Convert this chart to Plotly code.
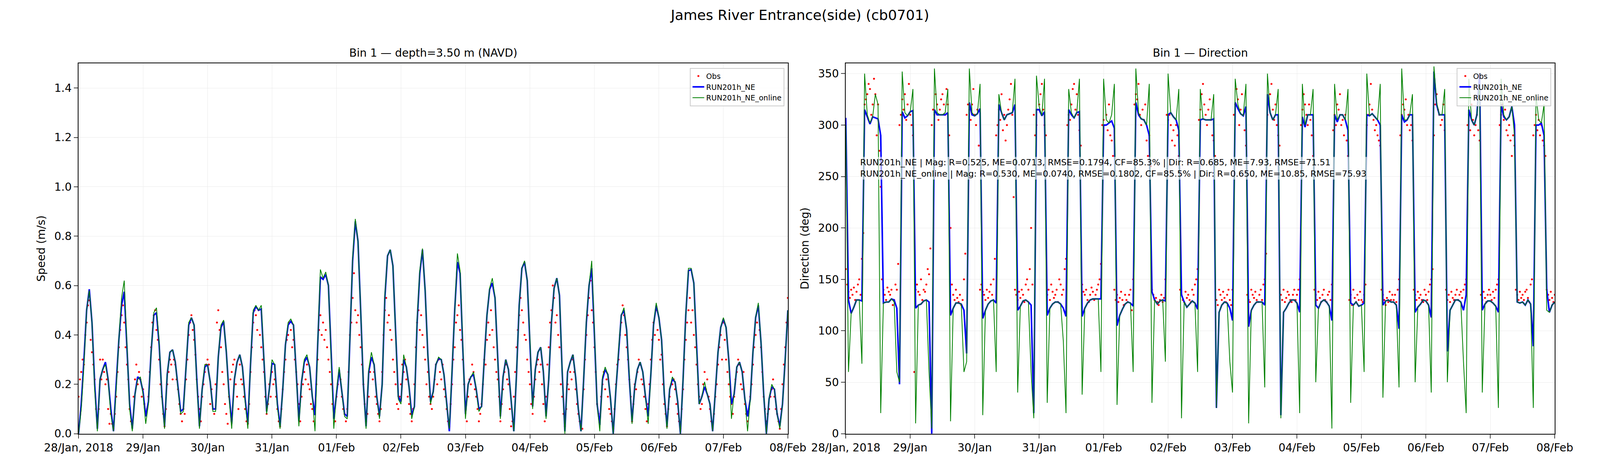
import plotly.graph_objects as go
import pandas as pd


def vals(s):
    return [float(v) for v in s.split()]


start = "2018-01-28 00:00"

# hourly model speed (m/s)
speed_run = vals("""
0.0 0.12 0.30 0.50 0.585 0.45 0.20 0.02 0.22 0.26 0.29 0.22
0.10 0.01 0.20 0.38 0.52 0.575 0.35 0.12 0.02 0.16 0.23 0.22
0.17 0.07 0.13 0.33 0.48 0.49 0.36 0.16 0.03 0.24 0.33 0.34
0.29 0.19 0.09 0.10 0.27 0.44 0.47 0.44 0.22 0.03 0.18 0.27
0.28 0.21 0.10 0.10 0.31 0.43 0.455 0.33 0.16 0.04 0.22 0.29
0.32 0.27 0.14 0.04 0.28 0.49 0.515 0.50 0.505 0.30 0.09 0.18
0.285 0.28 0.12 0.03 0.18 0.36 0.44 0.455 0.44 0.25 0.05 0.21
0.29 0.31 0.27 0.15 0.075 0.36 0.635 0.625 0.645 0.60 0.32 0.06
0.16 0.26 0.17 0.08 0.07 0.40 0.70 0.86 0.78 0.50 0.20 0.03
0.25 0.31 0.28 0.15 0.07 0.20 0.55 0.72 0.745 0.68 0.40 0.15
0.13 0.30 0.27 0.19 0.075 0.11 0.45 0.65 0.745 0.58 0.32 0.13
0.17 0.28 0.305 0.30 0.24 0.12 0.01 0.25 0.50 0.695 0.65 0.35
0.08 0.20 0.23 0.24 0.18 0.10 0.11 0.30 0.48 0.585 0.61 0.55
0.30 0.07 0.23 0.30 0.26 0.13 0.01 0.24 0.52 0.67 0.695 0.62
0.38 0.11 0.26 0.33 0.35 0.25 0.07 0.22 0.45 0.59 0.63 0.56
0.25 0.01 0.25 0.29 0.32 0.23 0.10 0.01 0.22 0.45 0.60 0.67
0.40 0.12 0.035 0.22 0.26 0.24 0.14 0.00 0.18 0.34 0.48 0.50
0.42 0.22 0.05 0.19 0.26 0.29 0.25 0.15 0.07 0.24 0.44 0.52
0.47 0.38 0.16 0.03 0.18 0.22 0.21 0.13 0.00 0.22 0.48 0.66
0.665 0.61 0.35 0.12 0.15 0.19 0.16 0.12 0.01 0.17 0.33 0.43
0.465 0.43 0.30 0.12 0.16 0.27 0.29 0.25 0.14 0.07 0.14 0.33
0.47 0.52 0.37 0.16 0.00 0.14 0.19 0.18 0.08 0.03 0.12 0.30
0.50
""")

speed_online = vals("""
0.0 0.10 0.28 0.50 0.58 0.45 0.18 0.01 0.22 0.26 0.28 0.22
0.08 0.01 0.18 0.38 0.55 0.62 0.36 0.10 0.01 0.16 0.22 0.23
0.16 0.04 0.12 0.33 0.49 0.51 0.37 0.15 0.02 0.24 0.33 0.34
0.29 0.19 0.08 0.09 0.27 0.45 0.47 0.44 0.21 0.02 0.18 0.28
0.28 0.21 0.09 0.09 0.31 0.44 0.46 0.33 0.15 0.02 0.22 0.29
0.32 0.27 0.13 0.02 0.28 0.50 0.52 0.50 0.52 0.30 0.08 0.18
0.30 0.28 0.11 0.02 0.18 0.36 0.45 0.465 0.44 0.25 0.03 0.21
0.30 0.32 0.27 0.15 0.01 0.36 0.665 0.63 0.655 0.60 0.32 0.02
0.17 0.27 0.17 0.07 0.06 0.40 0.71 0.87 0.78 0.50 0.20 0.02
0.26 0.33 0.28 0.15 0.06 0.20 0.56 0.72 0.745 0.68 0.40 0.14
0.12 0.32 0.27 0.19 0.06 0.11 0.46 0.66 0.75 0.58 0.32 0.12
0.17 0.28 0.31 0.30 0.24 0.12 0.02 0.25 0.50 0.73 0.66 0.35
0.06 0.20 0.23 0.25 0.18 0.09 0.11 0.30 0.48 0.59 0.63 0.55
0.30 0.06 0.23 0.30 0.26 0.13 0.01 0.24 0.52 0.67 0.70 0.62
0.38 0.10 0.26 0.33 0.35 0.25 0.06 0.22 0.45 0.59 0.63 0.56
0.25 0.00 0.25 0.29 0.32 0.23 0.10 0.01 0.22 0.46 0.60 0.70
0.40 0.12 0.01 0.23 0.27 0.24 0.14 0.00 0.18 0.34 0.48 0.51
0.42 0.22 0.04 0.19 0.26 0.29 0.25 0.15 0.04 0.24 0.44 0.53
0.47 0.38 0.16 0.02 0.18 0.23 0.21 0.13 0.00 0.22 0.48 0.67
0.67 0.61 0.35 0.12 0.15 0.21 0.16 0.12 0.01 0.17 0.33 0.43
0.47 0.43 0.30 0.06 0.16 0.27 0.29 0.25 0.14 0.01 0.14 0.33
0.47 0.53 0.37 0.16 0.00 0.14 0.20 0.18 0.08 0.02 0.12 0.30
0.50
""")

# half-hourly observed speed (m/s)
speed_obs = vals("""
0.15 0.22 0.25 0.30 0.28 0.40 0.45 0.52 0.54 0.38 0.33 0.28 0.22 0.10 0.05 0.10 0.30 0.22 0.30 0.25 0.20 0.22 0.10 0.04
0.08 0.04 0.02 0.08 0.15 0.25 0.35 0.42 0.48 0.52 0.45 0.35 0.28 0.22 0.10 0.05 0.04 0.15 0.22 0.28 0.20 0.25 0.22 0.15
0.18 0.12 0.08 0.10 0.15 0.25 0.35 0.45 0.48 0.50 0.42 0.38 0.30 0.20 0.15 0.08 0.03 0.10 0.20 0.25 0.30 0.28 0.22 0.30
0.28 0.22 0.18 0.12 0.08 0.05 0.10 0.08 0.22 0.30 0.40 0.45 0.48 0.42 0.38 0.32 0.22 0.15 0.10 0.05 0.15 0.20 0.25 0.28
0.30 0.28 0.12 0.18 0.10 0.08 0.20 0.45 0.50 0.42 0.35 0.25 0.20 0.12 0.08 0.04 0.15 0.22 0.25 0.28 0.30 0.20 0.15 0.10
0.28 0.22 0.20 0.15 0.10 0.05 0.04 0.12 0.25 0.35 0.45 0.50 0.48 0.42 0.50 0.40 0.35 0.30 0.25 0.15 0.08 0.12 0.20 0.15
0.25 0.20 0.22 0.15 0.10 0.05 0.03 0.10 0.18 0.25 0.30 0.38 0.40 0.45 0.42 0.35 0.38 0.30 0.25 0.20 0.12 0.05 0.15 0.20
0.25 0.22 0.28 0.20 0.18 0.12 0.10 0.05 0.08 0.20 0.30 0.42 0.48 0.40 0.45 0.38 0.42 0.35 0.30 0.25 0.20 0.12 0.08 0.05
0.15 0.20 0.25 0.22 0.15 0.10 0.08 0.05 0.10 0.25 0.40 0.45 0.55 0.65 0.50 0.45 0.48 0.40 0.35 0.28 0.20 0.12 0.05 0.08
0.15 0.25 0.30 0.22 0.25 0.15 0.12 0.08 0.05 0.10 0.25 0.40 0.50 0.55 0.45 0.48 0.42 0.38 0.30 0.25 0.20 0.12 0.10 0.15
0.20 0.28 0.25 0.30 0.22 0.15 0.12 0.08 0.05 0.10 0.20 0.35 0.45 0.50 0.42 0.48 0.40 0.35 0.30 0.20 0.25 0.15 0.12 0.10
0.15 0.22 0.28 0.20 0.30 0.25 0.22 0.28 0.18 0.15 0.10 0.05 0.03 0.12 0.20 0.30 0.35 0.45 0.48 0.52 0.42 0.38 0.30 0.20
0.10 0.05 0.15 0.22 0.20 0.28 0.25 0.18 0.15 0.10 0.05 0.08 0.12 0.20 0.30 0.28 0.38 0.45 0.40 0.50 0.42 0.35 0.30 0.25
0.22 0.15 0.05 0.12 0.18 0.25 0.28 0.22 0.20 0.10 0.03 0.05 0.15 0.25 0.35 0.42 0.48 0.55 0.50 0.45 0.40 0.38 0.30 0.25
0.20 0.12 0.08 0.15 0.22 0.28 0.30 0.25 0.28 0.20 0.12 0.05 0.15 0.28 0.35 0.45 0.50 0.60 0.55 0.45 0.48 0.40 0.35 0.20
0.15 0.08 0.03 0.10 0.20 0.18 0.25 0.22 0.30 0.25 0.18 0.12 0.08 0.05 0.05 0.02 0.18 0.30 0.40 0.48 0.55 0.62 0.50 0.45
0.35 0.25 0.12 0.08 0.05 0.15 0.20 0.25 0.18 0.22 0.15 0.10 0.08 0.05 0.02 0.10 0.20 0.28 0.30 0.40 0.45 0.52 0.48 0.40
0.35 0.30 0.22 0.15 0.05 0.12 0.20 0.18 0.25 0.30 0.28 0.22 0.20 0.15 0.10 0.05 0.12 0.20 0.30 0.38 0.45 0.40 0.50 0.42
0.38 0.30 0.32 0.20 0.12 0.08 0.03 0.10 0.15 0.25 0.20 0.22 0.18 0.12 0.08 0.05 0.02 0.10 0.18 0.30 0.38 0.45 0.50 0.55
0.45 0.50 0.40 0.35 0.28 0.20 0.15 0.10 0.12 0.20 0.25 0.18 0.22 0.15 0.10 0.05 0.03 0.08 0.15 0.20 0.28 0.35 0.40 0.30
0.45 0.38 0.30 0.25 0.20 0.15 0.12 0.08 0.15 0.22 0.25 0.30 0.28 0.20 0.18 0.25 0.12 0.08 0.05 0.10 0.15 0.20 0.28 0.35
0.40 0.45 0.50 0.42 0.35 0.25 0.15 0.10 0.05 0.08 0.10 0.15 0.18 0.22 0.15 0.10 0.08 0.05 0.02 0.10 0.20 0.28 0.35 0.45
0.55
""")

# hourly model direction (deg)
dir_run = vals("""
307 130 117 123 130 130 129 315 308 301 308 307
306 290 127 128 128 131 130 122 48 313 307 309
313 314 122 125 126 129 130 128 0 315 310 310
310 310 312 115 122 127 127 126 120 78 322 310
309 311 316 112 120 126 129 130 127 320 312 305
310 311 312 320 120 124 129 130 128 125 20 315
315 309 313 115 122 126 128 128 126 122 114 315
310 307 312 313 114 122 127 130 131 131 131 131
300 300 302 304 297 105 115 121 126 128 127 124
322 310 306 305 300 290 138 130 126 129 130 129
310 312 308 305 295 135 128 123 126 129 127 121
305 306 305 305 305 306 25 118 125 128 127 122
110 322 316 311 309 318 104 120 125 128 128 128
125 330 312 305 310 310 18 118 122 127 130 130
127 118 308 298 310 310 310 125 122 128 130 128
124 110 310 303 310 310 305 295 127 125 128 124
125 127 310 309 311 308 305 300 125 129 130 128
128 125 102 310 303 305 310 310 118 123 126 130
129 125 113 352 320 310 310 310 80 120 125 130
130 128 120 135 315 305 300 310 350 120 126 129
129 127 124 118 320 308 305 308 318 300 128 127
128 125 130 126 85 300 300 302 290 140 118 125
128
""")

dir_online = vals("""
300 60 117 123 130 130 68 350 310 302 308 330
320 20 127 128 128 131 128 60 50 352 312 309
313 335 10 125 126 129 130 60 5 355 312 310
310 312 335 12 122 127 127 126 60 70 355 312
309 311 340 18 120 126 129 130 60 330 312 305
310 311 312 345 40 124 129 130 128 60 15 348
318 309 345 30 122 126 128 128 126 90 20 335
312 307 312 345 38 122 127 130 131 131 131 60
345 305 302 310 340 28 115 121 126 128 127 60
355 312 306 305 300 340 30 130 126 129 130 70
350 312 308 305 335 15 128 123 126 129 127 60
335 306 305 305 305 330 25 118 125 128 127 70
40 345 320 311 309 340 10 120 125 128 128 128
45 350 312 305 310 335 15 118 122 127 130 130
127 20 340 300 310 310 335 50 122 128 130 128
124 5 340 305 310 310 305 335 30 125 128 124
125 60 350 309 311 308 305 340 35 129 130 128
128 125 45 355 305 305 310 330 50 123 126 130
129 125 40 357 322 310 310 335 50 120 125 130
130 128 70 20 345 305 300 310 340 40 126 129
129 127 124 25 345 310 305 308 318 290 128 127
128 125 130 126 25 330 305 302 320 120 118 125
128
""")

# half-hourly observed direction (deg)
dir_obs = vals("""
160 145 138 132 140 135 142 130 138 145 150 135 170 195 320 325 330 340 335 310 320 345 330 290
320 275 240 150 140 135 130 142 138 135 140 125 130 145 140 165 300 310 325 315 330 305 320 340
310 300 290 60 140 145 138 135 150 130 140 138 145 160 155 180 300 315 310 330 320 305 315 325
330 320 310 335 320 290 200 145 135 130 140 132 128 135 125 130 150 175 310 320 315 305 320 335
310 300 315 280 140 145 138 135 130 140 132 138 145 135 150 170 290 300 315 305 330 295 310 285
300 315 325 340 310 230 140 135 130 138 132 140 135 128 145 150 140 160 200 145 310 290 300 315
320 330 340 315 300 290 135 140 130 145 138 132 135 140 128 150 145 135 140 160 170 300 310 305
320 335 340 315 330 310 295 280 145 138 135 140 130 128 135 142 138 130 135 140 145 150 165 300
305 300 310 295 320 290 285 270 140 130 135 128 132 138 130 125 135 130 128 135 140 120 150 320
330 325 340 310 300 315 305 320 285 270 290 260 140 135 130 132 128 125 130 135 128 132 150 310
305 310 300 285 295 280 300 290 270 140 135 130 128 138 132 135 130 128 140 135 145 150 160 305
315 330 340 320 310 300 315 325 305 290 285 270 130 125 140 135 130 138 132 128 135 140 130 125
140 310 320 335 325 300 315 330 310 295 280 135 130 128 140 135 132 138 130 128 135 140 130 145
150 175 310 320 330 340 315 305 320 300 290 280 135 130 140 128 132 138 135 130 128 135 140 130
135 140 150 300 315 330 320 310 300 320 305 290 270 140 135 130 138 132 128 135 140 130 128 135
138 130 145 295 310 300 320 315 330 300 305 290 310 285 270 130 135 125 140 132 128 135 130 138
130 128 135 145 300 310 320 340 315 305 295 300 290 285 280 140 135 130 125 132 128 138 130 135
130 135 128 140 150 290 310 320 315 325 300 310 295 300 285 140 135 130 138 132 135 130 128 140
135 130 138 145 150 160 290 320 330 315 310 300 305 320 295 140 130 135 128 138 132 130 135 140
130 135 138 132 140 145 150 300 310 295 320 305 290 300 310 295 285 135 130 138 132 128 135 140
135 130 138 132 140 145 150 300 310 320 305 315 295 290 300 285 270 290 280 140 135 130 138 132
135 130 138 140 132 128 145 150 290 300 310 295 305 290 300 285 280 270 140 135 130 138 132 128
135
""")

t_run = pd.date_range(start, periods=len(speed_run), freq="h")
t_obs = pd.date_range(start, periods=len(speed_obs), freq="30min")

tick_vals = pd.date_range("2018-01-28", "2018-02-08", freq="D")
tick_text = ["28/Jan, 2018", "29/Jan", "30/Jan", "31/Jan", "01/Feb", "02/Feb",
             "03/Feb", "04/Feb", "05/Feb", "06/Feb", "07/Feb", "08/Feb"]

stats_text = ("RUN201h_NE | Mag: R=0.525, ME=0.0713, RMSE=0.1794, CF=85.3% | Dir: R=0.685, ME=7.93, RMSE=71.51<br>"
              "RUN201h_NE_online | Mag: R=0.530, ME=0.0740, RMSE=0.1802, CF=85.5% | Dir: R=0.650, ME=10.85, RMSE=75.93")

FONT = "DejaVu Sans"
fig = go.Figure()

# left panel: speed
fig.add_trace(go.Scatter(x=t_obs, y=speed_obs, mode="markers", name="Obs",
                         marker=dict(color="red", size=5), xaxis="x", yaxis="y", legend="legend"))
fig.add_trace(go.Scatter(x=t_run, y=speed_run, mode="lines", name="RUN201h_NE",
                         line=dict(color="blue", width=4), xaxis="x", yaxis="y", legend="legend"))
fig.add_trace(go.Scatter(x=t_run, y=speed_online, mode="lines", name="RUN201h_NE_online",
                         line=dict(color="green", width=2), xaxis="x", yaxis="y", legend="legend"))

# right panel: direction
fig.add_trace(go.Scatter(x=t_obs, y=dir_obs, mode="markers", name="Obs",
                         marker=dict(color="red", size=5), xaxis="x2", yaxis="y2", legend="legend2"))
fig.add_trace(go.Scatter(x=t_run, y=dir_run, mode="lines", name="RUN201h_NE",
                         line=dict(color="blue", width=4), xaxis="x2", yaxis="y2", legend="legend2"))
fig.add_trace(go.Scatter(x=t_run, y=dir_online, mode="lines", name="RUN201h_NE_online",
                         line=dict(color="green", width=2), xaxis="x2", yaxis="y2", legend="legend2"))

xax = dict(range=[tick_vals[0], tick_vals[-1]], tickvals=tick_vals, ticktext=tick_text,
           showgrid=True, gridcolor="#ebebeb", showline=True, linecolor="black", linewidth=2,
           mirror=True, ticks="outside", ticklen=10, tickwidth=2, tickfont=dict(size=28))
yax = dict(showgrid=True, gridcolor="#ebebeb", showline=True, linecolor="black", linewidth=2,
           mirror=True, ticks="outside", ticklen=10, tickwidth=2, tickfont=dict(size=28),
           zeroline=False)

leg = dict(bgcolor="rgba(255,255,255,0.8)", bordercolor="#cccccc", borderwidth=2,
           font=dict(size=19), xanchor="right", yanchor="top", tracegroupgap=0)

fig.update_layout(
    autosize=True, template="plotly_white",
    font=dict(family=FONT, color="black"),
    margin=dict(l=0, r=0, t=0, b=0),
    title=dict(text="James River Entrance(side) (cb0701)", x=0.5, y=0.985,
               xanchor="center", yanchor="top", font=dict(size=36)),
    xaxis=dict(domain=[0.0264, 0.4868], anchor="y", **xax),
    yaxis=dict(domain=[0.056, 0.868], anchor="x", range=[0, 1.5], dtick=0.2,
               tickformat=".1f", title=dict(text="Speed (m/s)", font=dict(size=28)), **yax),
    xaxis2=dict(domain=[0.5244, 0.9846], anchor="y2", **xax),
    yaxis2=dict(domain=[0.056, 0.868], anchor="x2", range=[0, 360], dtick=50,
                title=dict(text="Direction (deg)", font=dict(size=28)), **yax),
    legend=dict(x=0.4845, y=0.858, **leg),
    legend2=dict(x=0.9823, y=0.858, **leg),
    annotations=[
        dict(text="Bin 1 — depth=3.50 m (NAVD)", xref="paper", yref="paper", x=0.2566, y=0.875,
             xanchor="center", yanchor="bottom", showarrow=False, font=dict(size=28)),
        dict(text="Bin 1 — Direction", xref="paper", yref="paper", x=0.7545, y=0.875,
             xanchor="center", yanchor="bottom", showarrow=False, font=dict(size=28)),
        dict(text=stats_text, xref="x2", yref="y2", x=pd.Timestamp("2018-01-28 05:00"), y=258,
             xanchor="left", yanchor="middle", align="left", showarrow=False,
             bgcolor="rgba(255,255,255,0.6)", font=dict(size=22)),
    ],
)

fig.write_html("out.html")
